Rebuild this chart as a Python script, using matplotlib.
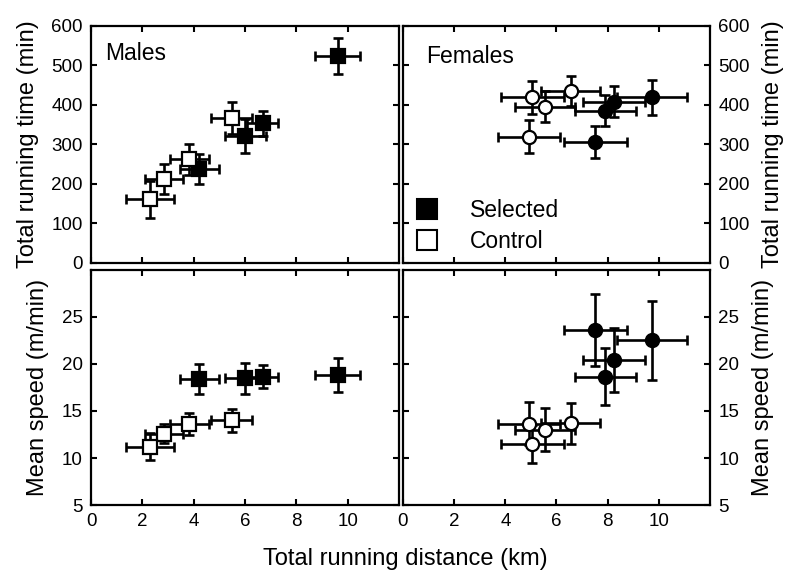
import matplotlib
matplotlib.use("Agg")
import matplotlib.pyplot as plt
from matplotlib.lines import Line2D

plt.rcParams['font.family'] = ['Liberation Sans', 'DejaVu Sans']

# males, selected lines
m_sel_dist = [9.61, 6.68, 6.00, 4.22]
m_sel_dist_err = [0.87, 0.62, 0.80, 0.75]
m_sel_time = [524, 354, 322, 238]
m_sel_time_err = [46, 32, 43, 38]
m_sel_speed = [18.8, 18.65, 18.5, 18.4]
m_sel_speed_err = [1.8, 1.25, 1.65, 1.55]

# males, control lines
m_ctl_dist = [5.48, 3.83, 2.86, 2.30]
m_ctl_dist_err = [0.79, 0.77, 0.74, 0.92]
m_ctl_time = [367, 262, 213, 161]
m_ctl_time_err = [40, 39, 38, 47]
m_ctl_speed = [14.0, 13.6, 12.6, 11.2]
m_ctl_speed_err = [1.2, 1.15, 1.05, 1.45]

# females, selected lines
f_sel_dist = [9.72, 8.25, 7.91, 7.52]
f_sel_dist_err = [1.37, 1.21, 1.20, 1.23]
f_sel_time = [419, 408, 386, 306]
f_sel_time_err = [44, 39, 39, 40]
f_sel_speed = [22.5, 20.4, 18.65, 23.6]
f_sel_speed_err = [4.2, 3.4, 3.0, 3.85]

# females, control lines
f_ctl_dist = [6.55, 5.05, 5.54, 4.92]
f_ctl_dist_err = [1.15, 1.23, 1.18, 1.22]
f_ctl_time = [436, 419, 396, 320]
f_ctl_time_err = [38, 41, 39, 41]
f_ctl_speed = [13.7, 11.5, 13.0, 13.65]
f_ctl_speed_err = [2.2, 2.04, 2.27, 2.3]

x_ticks = [0, 2, 4, 6, 8, 10]
time_ticks = [0, 100, 200, 300, 400, 500, 600]
speed_ticks = [5, 10, 15, 20, 25]

TICK_FS = 13.5
LABEL_FS = 17


def draw_group(ax, x, xerr, y, yerr, marker, face):
    ax.errorbar(x, y, xerr=xerr, yerr=yerr, fmt='none', ecolor='black',
                elinewidth=1.9, capsize=3.8, capthick=1.9, zorder=2)
    ax.plot(x, y, linestyle='none', marker=marker, markersize=9.5,
            markerfacecolor=face, markeredgecolor='black',
            markeredgewidth=1.6, zorder=3)


def style_axes(ax, top, right):
    ax.set_xlim(0, 12)
    ax.set_xticks(x_ticks)
    if top:
        ax.set_ylim(0, 600)
        ax.set_yticks(time_ticks)
    else:
        ax.set_ylim(5, 30)
        ax.set_yticks(speed_ticks)
    ax.tick_params(direction='in', top=True, right=True, length=4,
                   width=1.5, labelsize=TICK_FS, pad=6)
    ax.tick_params(labelbottom=not top)
    if right:
        ax.tick_params(labelleft=False, labelright=True)
        ax.yaxis.set_label_position('right')
    for s in ax.spines.values():
        s.set_linewidth(1.6)
    lab = 'Total running time (min)' if top else 'Mean speed (m/min)'
    ax.set_ylabel(lab, fontsize=LABEL_FS, labelpad=9)


fig = plt.figure(figsize=(7.88, 5.79), dpi=100)
ax_mt = fig.add_axes([0.1155, 0.5458, 0.391, 0.4093])
ax_ft = fig.add_axes([0.5114, 0.5458, 0.3896, 0.4093])
ax_ms = fig.add_axes([0.1155, 0.1278, 0.391, 0.4059])
ax_fs = fig.add_axes([0.5114, 0.1278, 0.3896, 0.4059])

draw_group(ax_mt, m_sel_dist, m_sel_dist_err, m_sel_time, m_sel_time_err, 's', 'black')
draw_group(ax_mt, m_ctl_dist, m_ctl_dist_err, m_ctl_time, m_ctl_time_err, 's', 'white')
draw_group(ax_ms, m_sel_dist, m_sel_dist_err, m_sel_speed, m_sel_speed_err, 's', 'black')
draw_group(ax_ms, m_ctl_dist, m_ctl_dist_err, m_ctl_speed, m_ctl_speed_err, 's', 'white')
draw_group(ax_ft, f_sel_dist, f_sel_dist_err, f_sel_time, f_sel_time_err, 'o', 'black')
draw_group(ax_ft, f_ctl_dist, f_ctl_dist_err, f_ctl_time, f_ctl_time_err, 'o', 'white')
draw_group(ax_fs, f_sel_dist, f_sel_dist_err, f_sel_speed, f_sel_speed_err, 'o', 'black')
draw_group(ax_fs, f_ctl_dist, f_ctl_dist_err, f_ctl_speed, f_ctl_speed_err, 'o', 'white')

style_axes(ax_mt, True, False)
style_axes(ax_ft, True, True)
style_axes(ax_ms, False, False)
style_axes(ax_fs, False, True)

ax_mt.text(0.045, 0.885, 'Males', transform=ax_mt.transAxes, fontsize=16.5,
           va='center', ha='left')
ax_ft.text(0.075, 0.87, 'Females', transform=ax_ft.transAxes, fontsize=16.5,
           va='center', ha='left')

handles = [Line2D([], [], linestyle='none', marker='s', markersize=14,
                  markerfacecolor='black', markeredgecolor='black', markeredgewidth=1.5),
           Line2D([], [], linestyle='none', marker='s', markersize=14,
                  markerfacecolor='white', markeredgecolor='black', markeredgewidth=1.5)]
ax_ft.legend(handles, ['Selected', 'Control'], loc='lower left',
             bbox_to_anchor=(-0.02, -0.025), frameon=False, fontsize=16.5,
             handlelength=1.2, handletextpad=1.3, labelspacing=0.35,
             borderaxespad=0.3)

fig.text(0.514, 0.0345, 'Total running distance (km)', fontsize=LABEL_FS,
         ha='center', va='center')

fig.savefig('out.png', dpi=100)
